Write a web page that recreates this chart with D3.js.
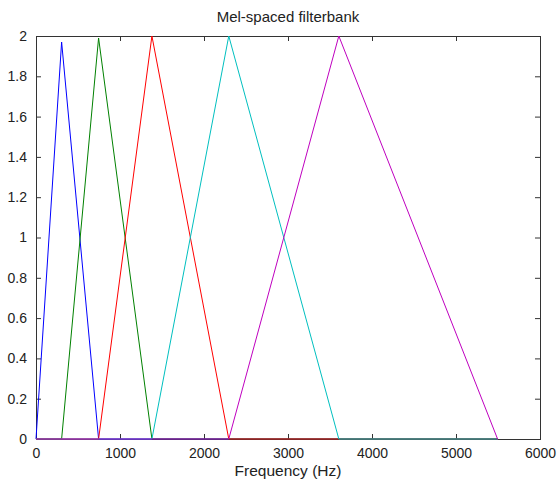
<!DOCTYPE html>
<html>
<head>
<meta charset="utf-8">
<script src="https://cdn.jsdelivr.net/npm/d3@7"></script>
<style>
  body { margin: 0; background: #fff; }
  text { font-family: "Liberation Sans", Arial, sans-serif; }
</style>
</head>
<body>
<div id="chart"></div>
<script>
// Data
// ================================
var xTicks = [0, 1000, 2000, 3000, 4000, 5000, 6000];
var yTicks = [0, 0.2, 0.4, 0.6, 0.8, 1, 1.2, 1.4, 1.6, 1.8, 2];

// filter edges / centres in Hz, and peak heights
var filterNames = ["f1", "f2", "f3", "f4", "f5"];
var filterStart = [0, 305, 745, 1380, 2295];
var filterPeak = [305, 745, 1380, 2295, 3605];
var filterEnd = [745, 1380, 2295, 3605, 5495];
var peakHeight = [1.97, 1.99, 2, 2, 2];
var lastFreq = 5500;
var filterColors = ["#0000ff", "#008000", "#ff0000", "#00bfbf", "#bf00bf"];

// Set up chart
// ================================
var svgWidth = 557;
var svgHeight = 481;

var margin = { top: 36, right: 17, bottom: 42, left: 36 };
var width = svgWidth - margin.left - margin.right;
var height = svgHeight - margin.top - margin.bottom;

var svg = d3.select("#chart")
  .append("svg")
  .attr("width", svgWidth)
  .attr("height", svgHeight);

var chartGroup = svg.append("g")
  .attr("transform", `translate(${margin.left}, ${margin.top})`);

var x = d3.scaleLinear().domain([0, 6000]).range([0, width]);
var y = d3.scaleLinear().domain([0, 2]).range([height, 0]);

// build each filter's polyline
var series = filterNames.map(function (name, i) {
  var pts = [];
  pts.push([0, 0]);
  if (filterStart[i] > 0) pts.push([filterStart[i], 0]);
  pts.push([filterPeak[i], peakHeight[i]]);
  pts.push([filterEnd[i], 0]);
  pts.push([lastFreq, 0]);
  return { name: name, color: filterColors[i], points: pts };
});

var line = d3.line()
  .x(d => x(d[0]))
  .y(d => y(d[1]));

// axes box with inward ticks (matlab style)
var axisColor = "#333";
var tickLen = 5;

function styleAxis(g) {
  g.select(".domain").remove();
  g.selectAll(".tick line").attr("stroke", axisColor);
  g.selectAll("text")
    .attr("fill", "#222")
    .style("font-size", "14px")
    .style("font-family", "'Liberation Sans', Arial, sans-serif");
}

var fmt = d => d3.format("")(d);

chartGroup.append("g")
  .attr("transform", `translate(0, ${height})`)
  .call(d3.axisBottom(x).tickValues(xTicks).tickFormat(fmt).tickSizeInner(-tickLen).tickSizeOuter(0).tickPadding(9))
  .call(styleAxis);

chartGroup.append("g")
  .call(d3.axisTop(x).tickValues(xTicks).tickFormat("").tickSizeInner(-tickLen).tickSizeOuter(0))
  .call(styleAxis);

chartGroup.append("g")
  .call(d3.axisLeft(y).tickValues(yTicks).tickFormat(fmt).tickSizeInner(-tickLen).tickSizeOuter(0).tickPadding(9))
  .call(styleAxis);

chartGroup.append("g")
  .attr("transform", `translate(${width}, 0)`)
  .call(d3.axisRight(y).tickValues(yTicks).tickFormat("").tickSizeInner(-tickLen).tickSizeOuter(0))
  .call(styleAxis);

chartGroup.append("rect")
  .attr("x", 0.5)
  .attr("y", 0.5)
  .attr("width", width)
  .attr("height", height)
  .attr("fill", "none")
  .attr("stroke", axisColor)
  .attr("stroke-width", 1);

// filter lines
chartGroup.selectAll("path.filter")
  .data(series)
  .enter()
  .append("path")
  .classed("filter", true)
  .attr("d", d => line(d.points))
  .attr("fill", "none")
  .attr("stroke", d => d.color)
  .attr("stroke-width", 1);

// title
svg.append("text")
  .attr("x", margin.left + width / 2)
  .attr("y", 22)
  .attr("text-anchor", "middle")
  .style("font-size", "15px")
  .attr("fill", "#222")
  .text("Mel-spaced filterbank");

// x axis label
svg.append("text")
  .attr("x", margin.left + width / 2)
  .attr("y", 476)
  .attr("text-anchor", "middle")
  .style("font-size", "15.5px")
  .attr("fill", "#222")
  .text("Frequency (Hz)");
</script>
</body>
</html>
